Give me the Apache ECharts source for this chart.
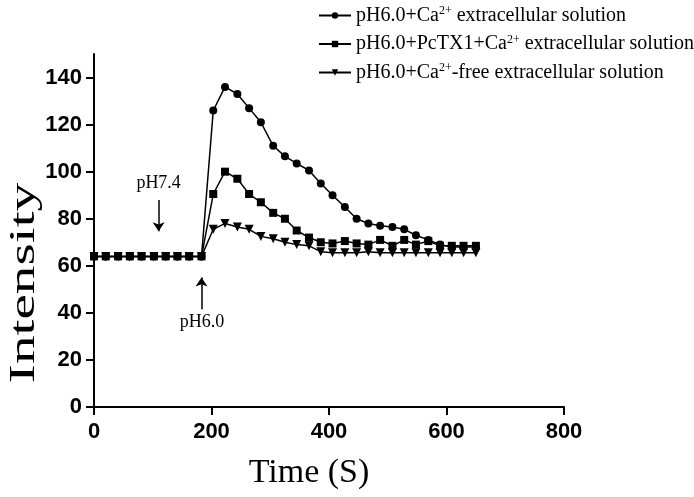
<!DOCTYPE html>
<html>
<head>
<meta charset="utf-8">
<script src="https://cdn.jsdelivr.net/npm/echarts@6/dist/echarts.min.js"></script>
<style>
html,body{margin:0;padding:0;background:#fff;}
#chart{width:694px;height:497px;}
</style>
</head>
<body>
<div id="chart"></div>
<script>
// ---- data ----
var times = [0, 20, 41, 61, 81, 102, 122, 142, 162, 183, 203, 223, 244, 264, 284, 305, 325, 345, 366, 386, 406, 427, 447, 467, 487, 508, 528, 548, 569, 589, 609, 629, 650];
var seriesNames = [
  'pH6.0+Ca2+ extracellular solution',
  'pH6.0+PcTX1+Ca2+ extracellular solution',
  'pH6.0+Ca2+-free extracellular solution'
];
var caValues = [64, 64, 64, 64, 64, 64, 64, 64, 64, 64, 126, 136, 133, 127, 121, 111, 106.5, 103.5, 100.5, 95, 90, 85, 80, 78, 77, 76.5, 75.5, 73, 71, 69, 68, 68, 68];
var pctxValues = [64, 64, 64, 64, 64, 64, 64, 64, 64, 64, 90.5, 100, 97, 90.5, 87, 82.5, 80, 75, 72, 70, 69.5, 70.5, 69.5, 69, 71, 68.5, 71, 69, 70.5, 68.5, 68.5, 68.5, 68.5];
var freeValues = [64, 64, 64, 64, 64, 64, 64, 64, 64, 64, 75.5, 78, 76.5, 75.5, 72.5, 71.5, 70, 69, 68.5, 66, 65.5, 65.5, 65.5, 66, 65.5, 65.5, 65.5, 65.5, 65.5, 65.5, 65.5, 65.5, 65.5];
var yTicks = [0, 20, 40, 60, 80, 100, 120, 140];
var xTicks = [0, 200, 400, 600, 800];
// annotations (data coordinates)
var arrowLines = [[[110, 88], [110, 74.7]], [[183, 41.5], [183, 55]]];
var annotTexts = [{ name: 'pH7.4', coord: [110, 95] }, { name: 'pH6.0', coord: [184, 36] }];

function pairs(vals) { return times.map(function (t, i) { return [t, vals[i]]; }); }

var SERIF = '"Liberation Serif", "Times New Roman", serif';
var SANS = '"Liberation Sans", Arial, sans-serif';

var chart = echarts.init(document.getElementById('chart'), null, { renderer: 'canvas' });

function legendFmt(name) {
  var p = name.split('Ca2+');
  return '{t|' + p[0] + 'Ca}{sup|2+}{t|' + p[1] + '}';
}

var lineCommon = {
  type: 'line',
  symbolSize: 8,
  lineStyle: { color: '#000', width: 1.5 },
  itemStyle: { color: '#000' },
  emphasis: { disabled: true }
};

var option = {
  animation: false,
  backgroundColor: '#fff',
  grid: { left: 94, right: 130, top: 54, bottom: 90, containLabel: false },
  legend: {
    orient: 'vertical',
    left: 313,
    top: 0,
    itemWidth: 32,
    itemHeight: 8,
    itemGap: 8,
    data: seriesNames,
    formatter: legendFmt,
    textStyle: {
      color: '#000',
      fontFamily: SERIF,
      fontSize: 20,
      rich: {
        t: { fontFamily: SERIF, fontSize: 20, color: '#000' },
        sup: { fontFamily: SERIF, fontSize: 12, color: '#000', padding: [0, 0, 9, 0] }
      }
    }
  },
  xAxis: {
    type: 'value',
    min: 0,
    max: 800,
    interval: 200,
    axisLine: { show: true, onZero: false, lineStyle: { color: '#000', width: 2 } },
    axisTick: { show: true, length: 8, lineStyle: { color: '#000', width: 2 } },
    axisLabel: { color: '#000', fontFamily: SANS, fontWeight: 'bold', fontSize: 22, margin: 14 },
    splitLine: { show: false }
  },
  yAxis: {
    type: 'value',
    min: 0,
    max: 150,
    axisLine: { show: true, onZero: false, lineStyle: { color: '#000', width: 2 } },
    axisTick: { show: true, length: 8, customValues: yTicks, lineStyle: { color: '#000', width: 2 } },
    axisLabel: { customValues: yTicks, color: '#000', fontFamily: SANS, fontWeight: 'bold', fontSize: 22, margin: 12 },
    splitLine: { show: false }
  },
  series: [
    Object.assign({}, lineCommon, {
      name: seriesNames[0], symbol: 'circle', data: pairs(caValues), z: 4,
      markLine: {
        silent: true,
        symbol: ['none', 'arrow'],
        symbolSize: 9,
        label: { show: false },
        lineStyle: { color: '#000', width: 1.5, type: 'solid' },
        data: arrowLines.map(function (l) { return [{ coord: l[0] }, { coord: l[1] }]; })
      },
      markPoint: {
        silent: true,
        symbol: 'circle',
        symbolSize: 1,
        itemStyle: { color: 'rgba(0,0,0,0)' },
        label: {
          show: true, position: 'inside', color: '#000', fontFamily: SERIF, fontSize: 18,
          formatter: function (p) { return p.name; }
        },
        data: annotTexts.map(function (a) { return { name: a.name, coord: a.coord }; })
      }
    }),
    Object.assign({}, lineCommon, { name: seriesNames[1], symbol: 'rect', data: pairs(pctxValues), z: 3 }),
    Object.assign({}, lineCommon, { name: seriesNames[2], symbol: 'triangle', symbolRotate: 180, symbolSize: 9, data: pairs(freeValues), z: 2 })
  ],
  graphic: [
    {
      type: 'text', x: 25, y: 283, rotation: Math.PI / 2, scaleX: 1.59, scaleY: 1,
      style: { text: 'Intensity', font: '36px ' + SERIF, fill: '#000', textAlign: 'center', textVerticalAlign: 'middle' }
    },
    {
      type: 'text', x: 309, y: 473,
      style: { text: 'Time (S)', font: '34px ' + SERIF, fill: '#000', textAlign: 'center', textVerticalAlign: 'middle' }
    }
  ]
};
chart.setOption(option);
</script>
</body>
</html>
